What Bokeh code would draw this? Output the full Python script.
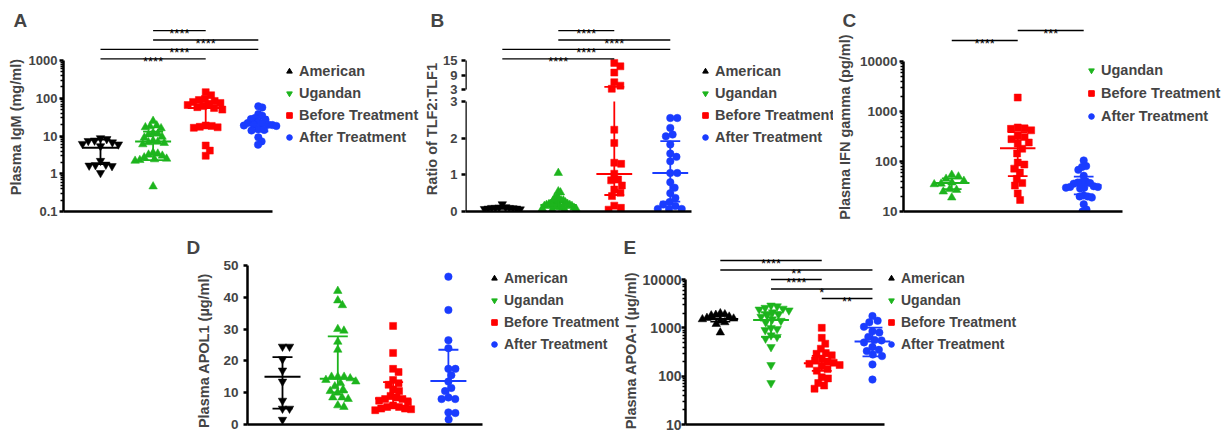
import numpy as np
from bokeh.plotting import figure
from bokeh.layouts import row, column
from bokeh.models import (Range1d, FixedTicker, Legend, LegendItem, Arrow,
                          Spacer, CustomJSTickFormatter, ColumnDataSource)
from bokeh.core.properties import value
from bokeh.embed import file_html
from bokeh.resources import INLINE

# ---------------- data ----------------
GROUPS = ["American", "Ugandan", "Before Treatment", "After Treatment"]
COLORS = ["#000000", "#1db41d", "#ff0000", "#1a3cff"]
LEGEND_MARKERS = ["triangle", "inverted_triangle", "square", "circle"]

# A: Plasma IgM (mg/ml)
A_AMERICAN = [8.8, 8.3, 7.6, 7.4, 6.8, 6.2, 6.0, 5.4, 2.2, 1.75, 1.7, 1.65, 1.6, 1.05]
A_UGANDAN = [25, 19, 18, 17, 16, 12, 11.5, 11, 9.5, 9, 7.5, 7, 6.8, 6.5, 6, 3.6, 3.4,
             3.2, 3.0, 2.7, 2.5, 2.4, 2.3, 2.2, 0.46]
A_BEFORE = [145, 120, 95, 90, 85, 80, 75, 70, 66, 62, 58, 55, 50, 19, 18.5, 17.5, 17,
            16.5, 5.6, 4.1, 3.0]
A_AFTER = [61, 57, 38, 34.5, 30, 28, 27, 24, 22, 21, 20, 20, 19.5, 19, 18.5, 15, 14.5,
           14, 9.2, 7.2, 5.9]
A_MEDIAN = [4.9, 7.2, 55, 20]
A_Q1 = [1.8, 2.3, 17, 13.3]
A_Q3 = [8.0, 13.0, 83, 32]
A_SIG = [(0, 2, "****"), (0, 3, "****"), (1, 3, "****"), (1, 2, "****")]

# B: Ratio of TLF2:TLF1
B_AMERICAN = [0.2, 0.12, 0.11, 0.1, 0.1, 0.1, 0.09, 0.08, 0.08, 0.07, 0.06]
B_UGANDAN = [1.05, 0.55, 0.52, 0.4, 0.38, 0.35, 0.3, 0.3, 0.28, 0.25, 0.22, 0.2, 0.2,
             0.19, 0.18, 0.18, 0.17, 0.15, 0.15, 0.12, 0.12, 0.1, 0.1, 0.08, 0.07,
             0.05, 0.05]
B_BEFORE = [14, 12.6, 10, 6, 4.6, 3.3, 2.23, 1.87, 1.33, 1.3, 1.03, 0.87, 0.85, 0.71,
            0.6, 0.51, 0.42, 0.16, 0.1, 0.05]
B_AFTER = [2.55, 2.55, 2.28, 2.1, 2.05, 1.83, 1.58, 1.49, 1.37, 1.05, 1.05, 0.8, 0.65,
           0.5, 0.37, 0.26, 0.19, 0.15, 0.07, 0.07, 0.07]
B_MEDIAN = [0.1, 0.18, 1.02, 1.05]
B_Q1 = [0.07, 0.1, 0.45, 0.27]
B_Q3 = [0.12, 0.3, 4.1, 1.92]
B_SIG = [(0, 2, "****"), (0, 3, "****"), (1, 3, "****"), (1, 2, "****")]
B_TICKS_LOW = [0, 1, 2, 3]
B_TICKS_HIGH = [3, 9, 15]

# C: Plasma IFN gamma (pg/ml)
C_UGANDAN = [54, 50, 45, 41, 38, 36, 35, 28, 27, 25, 19]
C_BEFORE = [1900, 480, 460, 450, 420, 320, 310, 280, 240, 230, 180, 145, 95, 87, 72,
            60, 45, 37, 33, 23, 17]
C_AFTER = [105, 81, 78, 68, 52, 40, 39, 38, 37, 36, 32, 31, 31, 30, 30, 29, 21, 20,
           20, 19, 14, 11, 10]
C_MEDIAN = [37, 185, 34]
C_Q1 = [28, 51, 22]
C_Q3 = [46, 386, 50]
C_SIG = [(0, 1, "****"), (1, 2, "***")]

# D: Plasma APOL1 (ug/ml)
D_AMERICAN = [24.5, 24.5, 20.5, 17, 13.5, 7.5, 5, 5, 1.5]
D_UGANDAN = [42, 39, 37.5, 30, 29.5, 26, 23.5, 15, 15, 15, 14.5, 14, 13.5, 13, 12, 11,
             10.5, 10, 8.5, 8.5, 8, 6, 5.5]
D_BEFORE = [31, 22.5, 17.5, 16.5, 14, 13, 12.5, 11, 10.5, 9, 8.5, 8, 8, 7.5, 7, 6,
            5.5, 5.5, 5, 5, 4.8, 4.5]
D_AFTER = [46.5, 36, 26.5, 24, 17.5, 17.5, 15.5, 13.5, 11.5, 10.5, 8.5, 8, 8, 3.8,
           3.6, 1.6]
D_MEDIAN = [15, 14.4, 8.2, 13.7]
D_Q1 = [5, 10.1, 5.4, 8.1]
D_Q3 = [21.2, 27.7, 13.3, 23.5]

# E: Plasma APOA-I (ug/ml)
E_AMERICAN = [2000, 1900, 1850, 1800, 1700, 1600, 1550, 1500, 1400, 1300, 1200, 800]
E_UGANDAN = [2900, 2800, 2600, 2500, 2400, 2300, 2100, 1900, 1800, 1700, 1500, 1400,
             1300, 1000, 950, 900, 700, 650, 600, 400, 170, 72]
E_BEFORE = [1000, 620, 470, 370, 300, 290, 270, 230, 210, 200, 190, 180, 170, 160,
            140, 130, 95, 90, 72, 64, 55]
E_AFTER = [1750, 1400, 1300, 1050, 850, 800, 650, 560, 550, 500, 400, 350, 330, 280,
           260, 175, 85]
E_MEDIAN = [1530, 1450, 186, 520]
E_Q1 = [1350, 650, 129, 257]
E_Q3 = [1800, 2100, 263, 1010]
E_SIG = [(2, 3, "**"), (1, 3, "*"), (1, 2, "****"), (0, 3, "**"), (0, 2, "****")]

FONT = "Liberation Sans"
NBSP = "\u00a0"

# broken axis of panel B (layout)
B_GAP = 12 / 36.67
B_K = (29 / 12) / 36.67


def b_tf(v):
    v = np.asarray(v, dtype=float)
    return np.where(v <= 3, v, 3 + B_GAP + (v - 3) * B_K)


def swarm(ypx, d, maxhalf):
    ypx = np.asarray(ypx, float)
    n = len(ypx)
    xs = np.zeros(n)
    order = np.argsort(ypx, kind="stable")
    placed = []
    for i in order:
        y = ypx[i]
        forb = []
        for xj, yj in placed:
            dy = abs(y - yj)
            if dy < d:
                w = np.sqrt(d * d - dy * dy)
                forb.append((xj - w, xj + w))
        cands = [0.0] + [a for a, _ in forb] + [b for _, b in forb]
        cands.sort(key=lambda c: (round(abs(c), 6), -c))
        for c in cands:
            if all(not (a + 1e-6 < c < b - 1e-6) for a, b in forb):
                xs[i] = c
                break
        placed.append((xs[i], y))
    m = np.abs(xs).max() if n else 0
    if m > maxhalf:
        xs *= maxhalf / m
    return xs


def build(cfg):
    figl, figt, figw, figh = cfg["fig"]
    fl, ft = cfg["frame"]
    fr = figl + figw
    axb = cfg["ax_bot"]
    log = cfg["log"]
    tf = cfg.get("tf", lambda v: np.asarray(v, dtype=float))
    if log:
        lb, lt = np.log10(cfg["bot_val"]), np.log10(cfg["top_val"])
        ppd = (axb - cfg["ax_top"]) / (lt - lb)
        to_px = lambda v: axb - (np.log10(np.asarray(v, float)) - lb) * ppd
        from_px = lambda px: 10 ** (lb + (axb - px) / ppd)
    else:
        b0, t0 = cfg["bot_val"], cfg["top_val"]
        ppu = (axb - cfg["ax_top"]) / (t0 - b0)
        to_px = lambda v: axb - (np.asarray(v, float) - b0) * ppu
        from_px = lambda px: b0 + (axb - px) / ppu
    cat0, step = cfg["cat0"], cfg["step"]
    xs0 = (fl - cat0) / step
    xe0 = (fr - cat0) / step
    ys0 = cfg["bot_val"]
    ye0 = from_px(ft)

    p = figure(width=figw, height=figh, x_range=Range1d(xs0, xe0),
               y_range=Range1d(ys0, ye0),
               y_axis_type="log" if log else "linear",
               output_backend="svg", toolbar_location=None,
               min_border_left=fl - figl, min_border_right=0,
               min_border_top=ft - figt, min_border_bottom=figt + figh - axb)
    p.grid.visible = False
    p.outline_line_color = None
    p.background_fill_color = "white"
    p.border_fill_color = "white"

    # points
    for gi, (vals, mk, col) in enumerate(zip(cfg["data"], cfg["markers"], cfg["colors"])):
        tv = tf(vals)
        dx = swarm(to_px(tv), cfg["dist"], cfg["maxhalf"]) / step
        src = ColumnDataSource(dict(x=gi + dx, y=tv))
        p.scatter("x", "y", source=src, marker=mk, size=cfg["sizes"][mk],
                  fill_color=col, line_color=col, line_width=0.5)

    # median + IQR
    for gi, col in enumerate(cfg["colors"]):
        med = float(tf(cfg["median"][gi]))
        q1 = float(tf(cfg["q1"][gi]))
        q3 = float(tf(cfg["q3"][gi]))
        mh = cfg["med_half"] / step
        ch = cfg["cap_half"] / step
        p.segment(x0=[gi - mh], x1=[gi + mh], y0=[med], y1=[med], line_color=col, line_width=2)
        p.segment(x0=[gi - ch, gi - ch], x1=[gi + ch, gi + ch], y0=[q1, q3], y1=[q1, q3],
                  line_color=col, line_width=1.8)
        if cfg.get("broken") and cfg["q3"][gi] > 3:
            p.segment(x0=[gi, gi], x1=[gi, gi], y0=[q1, 3 + B_GAP], y1=[3, q3],
                      line_color=col, line_width=1.8)
        else:
            p.segment(x0=[gi], x1=[gi], y0=[q1], y1=[q3], line_color=col, line_width=1.8)

    # significance bars
    sx0, sx1, sy, tx, ty, tt = [], [], [], [], [], []
    for k, (a, b, s) in enumerate(cfg["sig"]):
        ypx = cfg["sig_bottom"] - k * cfg["sig_pitch"]
        sx0.append(a); sx1.append(b); sy.append(from_px(ypx))
        tx.append((a + b) / 2); ty.append(from_px(ypx + 3)); tt.append(s)
    if sx0:
        p.segment(x0=sx0, x1=sx1, y0=sy, y1=sy, line_color="black", line_width=1.3)
        p.text(x=tx, y=ty, text=tt, text_align="center", text_baseline="alphabetic",
               text_font=value(FONT), text_font_size="13px", text_color="black")

    # y axis
    ya = p.yaxis[0]
    ya.ticker = FixedTicker(ticks=cfg["ticks"], minor_ticks=cfg.get("minor", []))
    if "tick_labels" in cfg:
        ya.formatter = CustomJSTickFormatter(
            args=dict(pos=list(cfg["ticks"]), lab=cfg["tick_labels"]),
            code="""let b = 0; for (let i = 0; i < pos.length; i++) {
                      if (Math.abs(pos[i] - tick) < Math.abs(pos[b] - tick)) b = i; }
                    return lab[b];""")
    else:
        ya.formatter = CustomJSTickFormatter(code="return tick.toString();")
    ya.bounds = (ys0, cfg["axis_top_val"])
    ya.axis_line_width = 2.5
    ya.major_tick_line_width = 2.5
    ya.major_tick_out = 4
    ya.major_tick_in = 0
    ya.minor_tick_out = 3
    ya.minor_tick_in = 0
    ya.minor_tick_line_width = 1.5
    ya.major_label_text_font = FONT
    ya.major_label_text_font_style = "bold"
    ya.major_label_text_font_size = cfg["tick_font"]
    ya.major_label_standoff = cfg["tick_std"]
    # label is centred on the frame; trailing no-break spaces move it down the axis
    ya.axis_label = cfg["ylabel"] + NBSP * cfg["label_pad"]
    ya.axis_label_text_font = FONT
    ya.axis_label_text_font_style = "bold"
    ya.axis_label_text_font_size = cfg["label_font"]
    ya.axis_label_standoff = cfg["lab_std"]
    if cfg.get("broken"):
        ya.axis_line_color = None
        for y0, y1 in cfg["axis_segments"]:
            p.add_layout(Arrow(end=None, x_start=xs0, y_start=y0, x_end=xs0, y_end=y1,
                               line_width=2.5, line_color="black"))

    # x axis
    xa = p.xaxis[0]
    xa.ticker = FixedTicker(ticks=[])
    xa.major_tick_out = 0
    xa.major_tick_in = 0
    xa.minor_tick_out = 0
    xa.minor_tick_in = 0
    xa.major_label_text_font_size = "0px"
    xa.major_label_standoff = 0
    xa.bounds = (xs0, (cfg["x_end"] - cat0) / step)
    xa.axis_line_width = 2.5

    # legend
    lx, ly, pitch = cfg["legend"]
    items = []
    for name, mk, col in zip(cfg["leg_names"], cfg["leg_markers"], cfg["leg_colors"]):
        r = p.scatter(x=[np.nan], y=[np.nan], marker=mk, size=6, fill_color=col, line_color=col)
        items.append(LegendItem(label=name, renderers=[r]))
    gw, gh = 14, 20
    n = len(items)
    lh = n * gh + (n - 1) * (pitch - gh)
    top = ly - gh / 2
    leg = Legend(items=items, location=(lx - gw / 2 - fl, axb - top - lh),
                 glyph_width=gw, glyph_height=gh, label_height=gh,
                 label_standoff=cfg["leg_std"], spacing=int(round(pitch - gh)), padding=0, margin=0,
                 border_line_color=None, background_fill_alpha=0,
                 label_text_font=FONT, label_text_font_style="bold",
                 label_text_font_size=cfg["leg_font"])
    p.add_layout(leg)

    # panel letter, as the figure title
    tx0, ty0 = cfg["title_pos"]
    p.title.text = cfg["title"]
    p.title.align = "left"
    p.title.vertical_align = "bottom"
    p.title.offset = tx0 - fl
    p.title.standoff = 2 * (ft - ty0 - 17.6)
    p.title.text_font = FONT
    p.title.text_font_style = "bold"
    p.title.text_font_size = "19px"
    return p


def log_minor(lo, hi):
    return [m * 10.0 ** e for e in range(lo, hi) for m in range(2, 10)]


SIZES = {"triangle": 8.5, "inverted_triangle": 8.5, "square": 7, "circle": 7.5}
ALL4 = dict(leg_names=GROUPS, leg_markers=LEGEND_MARKERS, leg_colors=COLORS)

# row 1: frames share top (14) and bottom (211); row 2: top 248, bottom 424
cfgA = dict(fig=(0, 0, 421, 232), frame=(63, 14), ax_bot=211, ax_top=60,
            bot_val=0.1, top_val=1000, log=True, axis_top_val=1000,
            cat0=100, step=52.6, x_end=272,
            data=[A_AMERICAN, A_UGANDAN, A_BEFORE, A_AFTER],
            markers=["inverted_triangle", "triangle", "square", "circle"], colors=COLORS,
            median=A_MEDIAN, q1=A_Q1, q3=A_Q3, sig=A_SIG, sig_bottom=58.3, sig_pitch=9.4,
            ticks=[0.1, 1, 10, 100, 1000], minor=log_minor(-1, 3),
            ylabel="Plasma IgM (mg/ml)", tick_font="13px", label_font="14.5px", label_pad=7,
            tick_std=2, lab_std=2, legend=(289, 70.7, 22.2), leg_std=3, leg_font="14.5px",
            title="A", title_pos=(13, 13), **ALL4)

cfgB = dict(fig=(421, 0, 412, 232), frame=(463, 14), ax_bot=211, ax_top=101,
            bot_val=0, top_val=3, log=False, axis_top_val=float(b_tf(15)), tf=b_tf,
            broken=True, axis_segments=[(0, 3), (3 + B_GAP, float(b_tf(15)))],
            cat0=500, step=56.3, x_end=690,
            data=[B_AMERICAN, B_UGANDAN, B_BEFORE, B_AFTER],
            markers=["inverted_triangle", "triangle", "square", "circle"], colors=COLORS,
            median=B_MEDIAN, q1=B_Q1, q3=B_Q3, sig=B_SIG, sig_bottom=58.3, sig_pitch=9.4,
            ticks=[float(v) for v in B_TICKS_LOW] + [3 + B_GAP + (v - 3) * B_K for v in B_TICKS_HIGH],
            tick_labels=[str(v) for v in B_TICKS_LOW + B_TICKS_HIGH],
            ylabel="Ratio of TLF2:TLF1", tick_font="13px", label_font="14.5px", label_pad=8,
            tick_std=4, lab_std=0, legend=(703, 70.7, 22.2), leg_std=3, leg_font="14.5px",
            title="B", title_pos=(428, 13), **ALL4)

cfgC = dict(fig=(833, 0, 392, 232), frame=(898, 14), ax_bot=211, ax_top=61,
            bot_val=10, top_val=10000, log=True, axis_top_val=10000,
            cat0=947, step=67, x_end=1120,
            data=[C_UGANDAN, C_BEFORE, C_AFTER],
            markers=["triangle", "square", "circle"], colors=COLORS[1:],
            median=C_MEDIAN, q1=C_Q1, q3=C_Q3, sig=C_SIG, sig_bottom=40, sig_pitch=10,
            ticks=[10, 100, 1000, 10000], minor=log_minor(1, 4),
            ylabel="Plasma IFN gamma (pg/ml)", tick_font="13.5px", label_font="14.5px",
            label_pad=7, tick_std=2, lab_std=4, legend=(1086, 70, 23), leg_std=3,
            leg_font="14.5px", title="C", title_pos=(837, 13),
            leg_names=GROUPS[1:], leg_markers=LEGEND_MARKERS[1:], leg_colors=COLORS[1:])

cfgD = dict(fig=(180, 232, 439, 200), frame=(247, 248), ax_bot=424, ax_top=265,
            bot_val=0, top_val=50, log=False, axis_top_val=50,
            cat0=282, step=55.3, x_end=482,
            data=[D_AMERICAN, D_UGANDAN, D_BEFORE, D_AFTER],
            markers=["inverted_triangle", "triangle", "square", "circle"], colors=COLORS,
            median=D_MEDIAN, q1=D_Q1, q3=D_Q3, sig=[], sig_bottom=0, sig_pitch=0,
            ticks=[0, 10, 20, 30, 40, 50],
            ylabel="Plasma APOL1 (µg/ml)", tick_font="13.5px", label_font="14.5px",
            label_pad=7, tick_std=5, lab_std=8, legend=(494, 279, 21.7), leg_std=3,
            leg_font="14px", title="D", title_pos=(186, 240), **ALL4)

cfgE = dict(fig=(619, 232, 606, 200), frame=(682, 248), ax_bot=424, ax_top=279,
            bot_val=10, top_val=10000, log=True, axis_top_val=10000,
            cat0=717, step=51, x_end=882,
            data=[E_AMERICAN, E_UGANDAN, E_BEFORE, E_AFTER],
            markers=["triangle", "inverted_triangle", "square", "circle"], colors=COLORS,
            median=E_MEDIAN, q1=E_Q1, q3=E_Q3, sig=E_SIG, sig_bottom=298, sig_pitch=9.5,
            ticks=[10, 100, 1000, 10000], minor=log_minor(1, 4),
            ylabel="Plasma APOA-I (µg/ml)", tick_font="14px", label_font="14.5px",
            label_pad=7, tick_std=0, lab_std=1, legend=(888, 279, 21.7), leg_std=3,
            leg_font="14px", title="E", title_pos=(620, 240), **ALL4)

for c in (cfgA, cfgB, cfgC, cfgD, cfgE):
    c.setdefault("dist", 7)
    c.setdefault("maxhalf", 18)
    c.setdefault("sizes", SIZES)
    c.setdefault("med_half", 18)
    c.setdefault("cap_half", 10)

pA, pB, pC, pD, pE = (build(c) for c in (cfgA, cfgB, cfgC, cfgD, cfgE))

layout = column(row(pA, pB, pC), row(Spacer(width=180, height=200), pD, pE))

open("out.html", "w").write(file_html(layout, INLINE))
